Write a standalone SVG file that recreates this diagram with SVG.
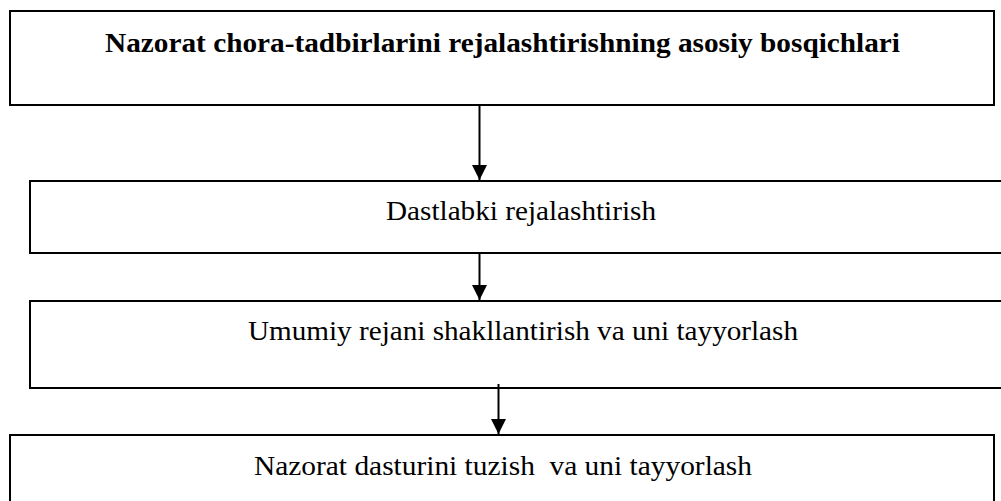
<svg xmlns="http://www.w3.org/2000/svg" width="1001" height="501" viewBox="0 0 1001 501">
<defs>
<style>
.box{fill:#fff;stroke:#000;stroke-width:2}
.t{font-family:"Liberation Serif","Times New Roman",serif;font-size:28px;fill:#000}
.b{font-weight:bold;font-size:28px}
.c{stroke:#000;stroke-width:2;fill:none}
</style>
<marker id="ah" viewBox="0 0 10 10" refX="10" refY="5" markerWidth="7.5" markerHeight="7.5" markerUnits="strokeWidth" orient="auto">
<path d="M0,0 L10,5 L0,10 z" fill="#000"/>
</marker>
</defs>
<rect width="1001" height="501" fill="#fff"/>
<g id="n1">
<rect class="box" x="10" y="11" width="984" height="94"/>
<text class="t b" x="105" y="52" textLength="795" lengthAdjust="spacingAndGlyphs">Nazorat chora-tadbirlarini rejalashtirishning asosiy bosqichlari</text>
</g>
<g id="n2">
<rect class="box" x="30" y="181" width="980" height="72"/>
<text class="t" x="386" y="220" textLength="270" lengthAdjust="spacingAndGlyphs">Dastlabki rejalashtirish</text>
</g>
<g id="n3">
<rect class="box" x="30" y="301" width="980" height="87"/>
<text class="t" x="248" y="340" textLength="550" lengthAdjust="spacingAndGlyphs">Umumiy rejani shakllantirish va uni tayyorlash</text>
</g>
<g id="n4">
<rect class="box" x="10" y="435" width="984" height="80"/>
<text class="t" x="254" y="475" textLength="498" lengthAdjust="spacingAndGlyphs" xml:space="preserve">Nazorat dasturini tuzish  va uni tayyorlash</text>
</g>
<g id="connectors">
<line class="c" x1="479.5" y1="105" x2="479.5" y2="180" marker-end="url(#ah)"/>
<line class="c" x1="479.5" y1="253" x2="479.5" y2="300" marker-end="url(#ah)"/>
<line class="c" x1="498.5" y1="384" x2="498.5" y2="434" marker-end="url(#ah)"/>
</g>
</svg>
